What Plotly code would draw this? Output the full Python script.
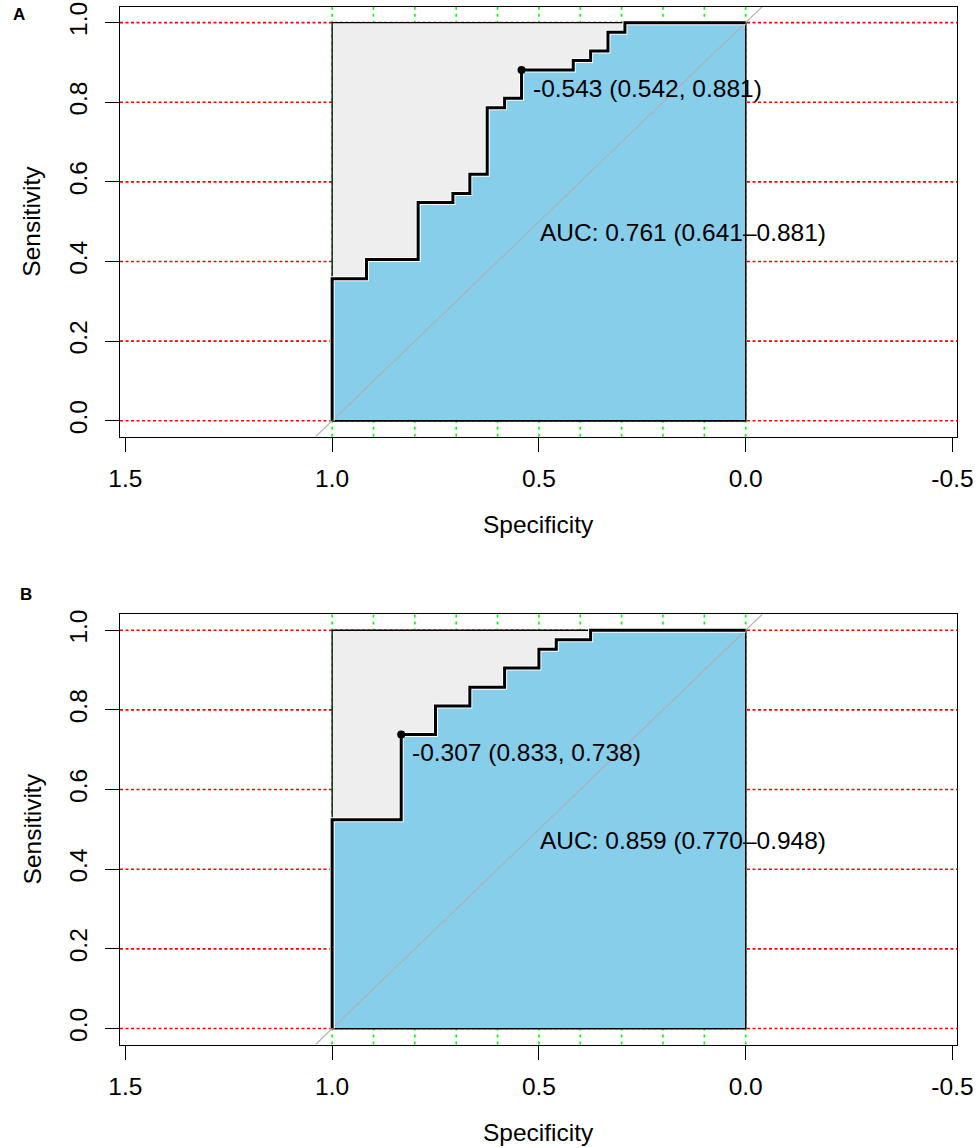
import plotly.graph_objects as go

# ROC corner points (specificity, sensitivity)
spec_a = [1.000, 1.000, 0.917, 0.792, 0.708, 0.667, 0.625, 0.583, 0.542,
          0.417, 0.375, 0.333, 0.292, 0.000]
sens_a = [0.000, 0.357, 0.405, 0.548, 0.571, 0.619, 0.786, 0.810, 0.881,
          0.905, 0.929, 0.976, 1.000, 1.000]
best_a = (-0.543, 0.542, 0.881)          # threshold, specificity, sensitivity
auc_a = (0.761, 0.641, 0.881)            # auc, ci low, ci high

spec_b = [1.000, 1.000, 0.833, 0.750, 0.667, 0.583, 0.500, 0.458, 0.375, 0.000]
sens_b = [0.000, 0.524, 0.738, 0.810, 0.857, 0.905, 0.952, 0.976, 1.000, 1.000]
best_b = (-0.307, 0.833, 0.738)
auc_b = (0.859, 0.770, 0.948)

panels = ["A", "B"]
x_ticks = [1.5, 1.0, 0.5, 0.0, -0.5]
x_ticktext = ["1.5", "1.0", "0.5", "0.0", "-0.5"]
y_ticks = [0.0, 0.2, 0.4, 0.6, 0.8, 1.0]
y_ticktext = ["0.0", "0.2", "0.4", "0.6", "0.8", "1.0"]
spec_grid = [1.0, 0.9, 0.8, 0.7, 0.6, 0.5, 0.4, 0.3, 0.2, 0.1, 0.0]
sens_grid = [0.0, 0.2, 0.4, 0.6, 0.8, 1.0]

X_RANGE = [1.513, -0.511]
Y_RANGE = [-0.04, 1.04]
W, H = 976, 1148
FONT = "Liberation Sans, Arial, sans-serif"
FS = 24.5

# pixel frames of the two plot boxes (top, bottom)
frames = [(6.7, 436.7), (614.3, 1044.5)]
x_dom = [120 / W, 957 / W]


def txt(size=FS):
    return dict(size=size, color="black", family=FONT)


fig = go.Figure()
curves = [(spec_a, sens_a, best_a, auc_a), (spec_b, sens_b, best_b, auc_b)]

for p, (spec, sens, best, auc) in enumerate(curves):
    xa = "x" if p == 0 else "x2"
    ya = "y" if p == 0 else "y2"
    sfx = "" if p == 0 else "2"

    # grey max-auc square
    fig.add_trace(go.Scatter(
        x=[1, 0, 0, 1, 1], y=[0, 0, 1, 1, 0], xaxis=xa, yaxis=ya,
        mode="lines", fill="toself", fillcolor="#EEEEEE",
        line=dict(color="black", width=1.3), hoverinfo="skip", showlegend=False))
    # auc polygon
    fig.add_trace(go.Scatter(
        x=spec + [0, spec[0]], y=sens + [0, sens[0]], xaxis=xa, yaxis=ya,
        mode="lines", line_shape="hv", fill="toself", fillcolor="#87CEEB",
        line=dict(color="black", width=1.3), hoverinfo="skip", showlegend=False))
    # identity line across the whole plot region
    fig.add_trace(go.Scatter(
        x=[1 - Y_RANGE[0], 1 - Y_RANGE[1]], y=Y_RANGE, xaxis=xa, yaxis=ya,
        mode="lines", line=dict(color="#AFAFAF", width=1.1),
        hoverinfo="skip", showlegend=False))
    # roc curve (thin white halo underneath)
    fig.add_trace(go.Scatter(
        x=spec, y=sens, xaxis=xa, yaxis=ya, mode="lines", line_shape="hv",
        line=dict(color="white", width=5), hoverinfo="skip", showlegend=False))
    fig.add_trace(go.Scatter(
        x=spec, y=sens, xaxis=xa, yaxis=ya, mode="lines", line_shape="hv",
        line=dict(color="black", width=3), showlegend=False))
    # best threshold point
    fig.add_trace(go.Scatter(
        x=[best[1]], y=[best[2]], xaxis=xa, yaxis=ya, mode="markers",
        marker=dict(color="black", size=8), showlegend=False))

    fig.add_annotation(
        x=best[1], y=best[2], xref=xa, yref=ya,
        text=f"{best[0]:.3f} ({best[1]:.3f}, {best[2]:.3f})",
        showarrow=False, xanchor="left", yanchor="middle",
        xshift=9, yshift=-18, font=txt())
    fig.add_annotation(
        x=0.5, y=0.5, xref=xa, yref=ya,
        text=f"AUC: {auc[0]:.3f} ({auc[1]:.3f}\u2013{auc[2]:.3f})",
        showarrow=False, xanchor="left", yanchor="middle",
        xshift=-1, yshift=-11, font=txt())

    # dotted grids (under the polygons)
    for s in sens_grid:
        fig.add_shape(type="line", xref=f"x{sfx} domain", yref=ya,
                      x0=0, x1=1, y0=s, y1=s, layer="below",
                      line=dict(color="#FF0000", width=1.6, dash="3px,2.5px"))
    for s in spec_grid:
        fig.add_shape(type="line", xref=xa, yref=f"y{sfx} domain",
                      x0=s, x1=s, y0=0, y1=1, layer="below",
                      line=dict(color="#00FF00", width=1.6, dash="3px,4px"))

    top, bot = frames[p]
    axis_common = dict(showline=True, mirror=True, linecolor="black",
                       linewidth=1.3, ticks="outside", ticklen=14,
                       tickwidth=1.3, tickcolor="black", showgrid=False,
                       zeroline=False, fixedrange=True, automargin=False,
                       tickfont=txt())
    fig.update_layout(**{
        f"xaxis{sfx}": dict(axis_common, domain=x_dom, range=X_RANGE,
                            anchor=ya, tickvals=x_ticks, ticktext=x_ticktext,
                            ticklabelstandoff=6),
        f"yaxis{sfx}": dict(axis_common, domain=[1 - bot / H, 1 - top / H],
                            range=Y_RANGE, anchor=xa, tickvals=y_ticks,
                            ticktext=y_ticktext, tickangle=-90,
                            ticklabelstandoff=8),
    })

    # axis titles and panel letter
    fig.add_annotation(x=538 / W, y=1 - (bot + 88) / H, xref="paper",
                       yref="paper", text="Specificity", showarrow=False,
                       xanchor="center", yanchor="middle", font=txt())
    fig.add_annotation(x=32 / W, y=1 - (top + bot) / 2 / H, xref="paper",
                       yref="paper", text="Sensitivity", showarrow=False,
                       textangle=-90, xanchor="center", yanchor="middle",
                       font=txt())
    fig.add_annotation(x=(19 if p == 0 else 26) / W,
                       y=1 - (15 if p == 0 else 594) / H, xref="paper",
                       yref="paper", text=f"<b>{panels[p]}</b>",
                       showarrow=False, xanchor="center", yanchor="middle",
                       font=txt(17))

fig.update_layout(width=W, height=H, margin=dict(l=0, r=0, t=0, b=0),
                  paper_bgcolor="white", plot_bgcolor="white",
                  showlegend=False)

# drop the browser's default body margin so the figure fills the window
fig.write_html("out.html", config={"displayModeBar": False},
               post_script="document.body.style.margin = '0';")
